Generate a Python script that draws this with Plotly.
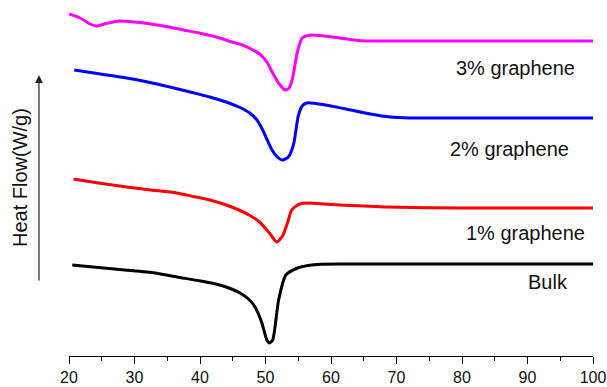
import plotly.graph_objects as go

# Temperature (°C) and heat flow (arbitrary units, endo down)
t_3 = [20.0, 21.7, 23.2, 24.2, 25.4, 27.7, 30.0, 32.5, 35.3, 37.5, 39.9, 42.5, 44.9, 46.5, 47.8, 49.1, 50.2, 51.1, 52.1, 53.0, 53.6, 54.1, 54.9, 55.6, 57.0, 59.0, 61.3, 63.5, 65.4, 70.0, 80.0, 100.0]
hf_3 = [342, 338, 332, 330, 332, 335, 334, 332, 329, 326, 323, 319, 314, 311, 307, 302, 294, 283, 272, 266, 268, 277, 305, 318, 321, 320, 318, 316, 315, 315, 315, 315]

t_2 = [20.8, 24.8, 28.8, 32.0, 35.4, 38.5, 41.5, 44.0, 46.1, 47.6, 48.7, 49.5, 50.2, 51.0, 51.8, 52.6, 53.5, 54.3, 55.0, 55.6, 56.3, 57.0, 60.0, 63.0, 66.0, 69.0, 72.0, 80.0, 100.0]
hf_2 = [286, 282, 278, 274, 269, 264, 259, 254, 248.5, 243, 236, 227, 217, 206, 199, 196, 199, 212, 240, 250, 253, 253, 250, 246, 242, 239, 238, 238, 238]

t_1 = [20.7, 24.5, 28.8, 32.5, 36.4, 39.0, 41.5, 44.0, 45.6, 47.5, 49.1, 50.6, 51.7, 52.6, 53.4, 54.0, 55.2, 56.7, 59.0, 61.3, 65.0, 68.5, 80.0, 100.0]
hf_1 = [177, 173, 169, 166, 163, 159.5, 156, 151, 147, 141, 134, 123, 114, 120, 134, 146, 152, 153, 152, 151, 150, 149, 148, 148]

t_bulk = [20.5, 24.5, 28.5, 33.1, 36.5, 40.1, 43.0, 44.8, 46.1, 47.4, 48.4, 49.4, 50.2, 50.6, 51.1, 52.0, 53.1, 54.9, 56.5, 58.5, 62.0, 80.0, 100.0]
hf_bulk = [91, 88.5, 86, 83, 79, 75, 71, 67, 63, 57, 49, 34, 16, 13, 16, 56, 81, 88, 90.5, 91.8, 92, 92, 92]

series = [
    ("3% graphene", t_3, hf_3, "#FF00FF"),
    ("2% graphene", t_2, hf_2, "#0000FF"),
    ("1% graphene", t_1, hf_1, "#FF0000"),
    ("Bulk", t_bulk, hf_bulk, "#000000"),
]

label_text = ["3% graphene", "2% graphene", "1% graphene", "Bulk"]
label_t = [88.2, 87.3, 89.7, 93.1]
label_hf = [288, 207, 123, 74]

x_ticks = [20, 30, 40, 50, 60, 70, 80, 90, 100]

fig = go.Figure()
for name, t, hf, col in series:
    fig.add_trace(go.Scatter(x=t, y=hf, mode="lines", name=name,
                             line=dict(color=col, width=3, shape="spline", smoothing=0.6)))

for txt, lt, lh in zip(label_text, label_t, label_hf):
    fig.add_annotation(x=lt, y=lh, text=txt, showarrow=False,
                       font=dict(family="Liberation Sans, Arial", size=20, color="#111111"))

# y-axis arrow and title
fig.add_annotation(xref="paper", yref="paper", x=-0.0573, y=0.789,
                   axref="pixel", ayref="pixel", ax=0, ay=207,
                   showarrow=True, arrowhead=2, arrowsize=1.3, arrowwidth=1.2,
                   arrowcolor="#222222", text="")
fig.add_annotation(xref="paper", yref="paper", x=-0.0935, y=0.5,
                   xanchor="center", yanchor="middle",
                   text="Heat Flow(W/g)", textangle=-90, showarrow=False,
                   font=dict(family="Liberation Sans, Arial", size=20, color="#111111"))

fig.update_layout(
    width=607, height=387,
    margin=dict(l=69, r=14, t=0, b=31),
    paper_bgcolor="white", plot_bgcolor="white",
    showlegend=False,
    xaxis=dict(range=[20, 100], tickvals=x_ticks, showgrid=False, zeroline=False,
               showline=True, linecolor="black", linewidth=1.3,
               ticks="outside", ticklen=7, tickwidth=1.3, tickcolor="black",
               minor=dict(dtick=5, ticks="outside", ticklen=4, tickwidth=1.3, tickcolor="black"),
               tickfont=dict(family="Liberation Sans, Arial", size=16, color="#111111")),
    yaxis=dict(range=[0, 356], visible=False),
)

fig.write_html("out.html", config={"displayModeBar": False},
               post_script="document.body.style.margin='0';")
